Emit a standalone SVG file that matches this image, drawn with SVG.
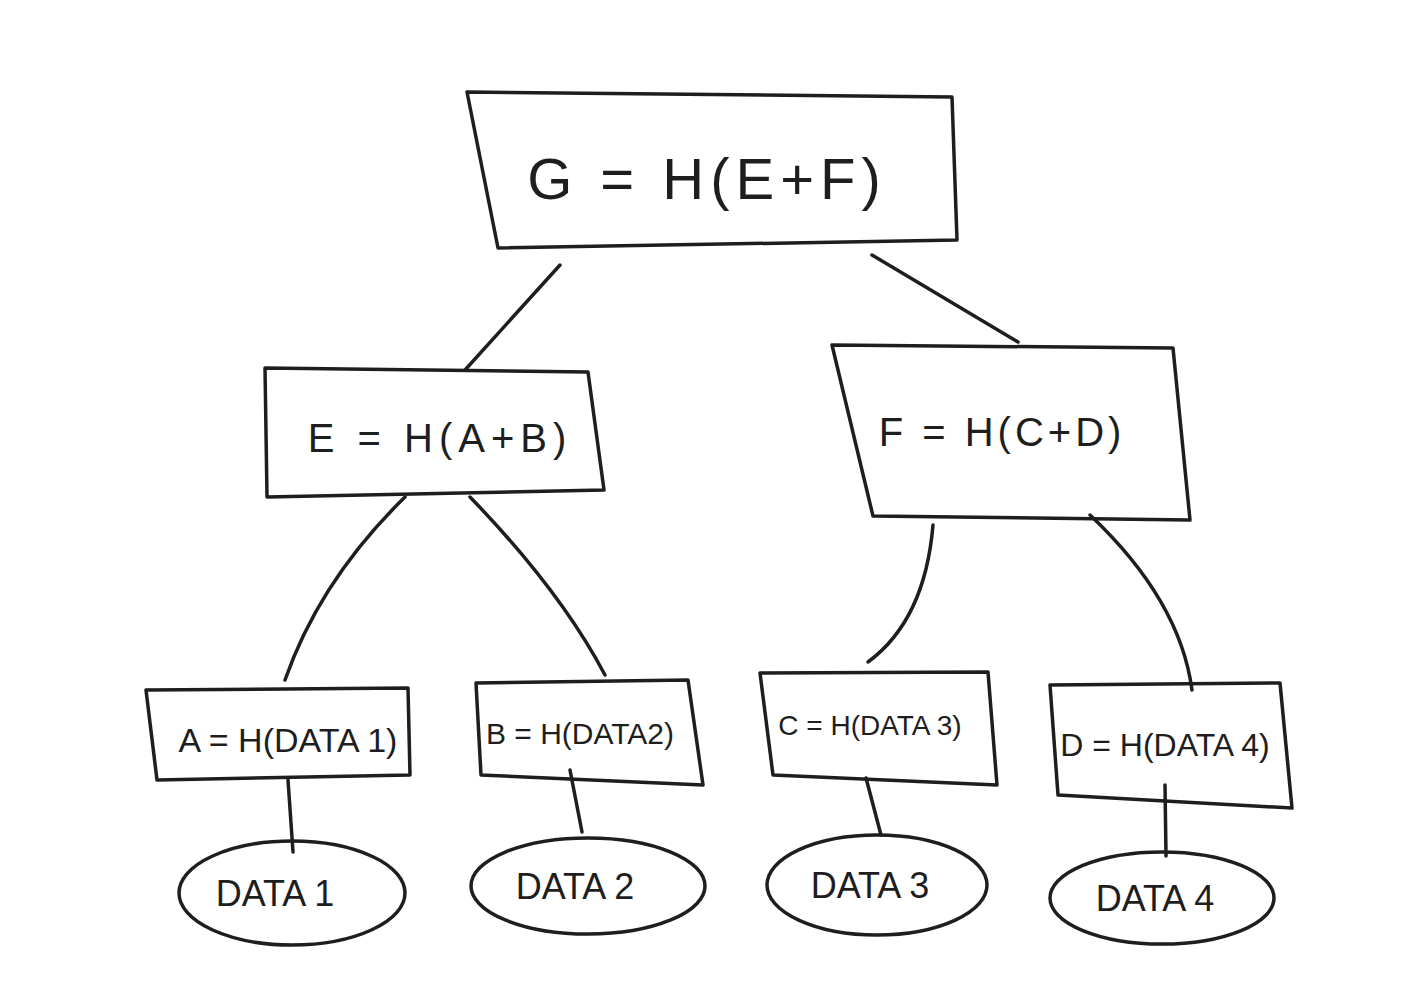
<svg xmlns="http://www.w3.org/2000/svg" width="1427" height="1000" viewBox="0 0 1427 1000">
<style>
.s{fill:none;stroke:#1e1e1e;stroke-width:3.5;stroke-linecap:round;stroke-linejoin:round}
.t{font-family:"Liberation Sans",sans-serif;fill:#1e1e1e;text-anchor:middle;dominant-baseline:central;font-weight:300}
</style>
<rect width="1427" height="1000" fill="#fff"/>
<g id="connectors" class="s">
<path d="M560 265 L465 370"/>
<path d="M872 255 L1018 342"/>
<path d="M405 497 Q320 580 285 680"/>
<path d="M470 497 Q560 590 605 675"/>
<path d="M933 525 Q925 620 868 662"/>
<path d="M1090 515 Q1180 600 1192 690"/>
<path d="M288 780 L293 852"/>
<path d="M570 770 L582 832"/>
<path d="M866 778 L881 835"/>
<path d="M1165 785 L1166 856"/>
</g>
<g id="G"><path class="s" d="M467 92 L952 97 L957 240 L498 248 Z"/><text class="t" x="707" y="178" font-size="58" letter-spacing="6">G = H(E+F)</text></g>
<g id="E"><path class="s" d="M265 368 L588 372 L604 490 L267 497 Z"/><text class="t" x="440" y="438" font-size="40" letter-spacing="6">E = H(A+B)</text></g>
<g id="F"><path class="s" d="M832 345 L1173 348 L1190 520 L873 516 Z"/><text class="t" x="1002" y="432" font-size="40" letter-spacing="4">F = H(C+D)</text></g>
<g id="A"><path class="s" d="M146 690 L408 688 L410 775 L157 780 Z"/><text class="t" x="288" y="740" font-size="34">A = H(DATA 1)</text></g>
<g id="B"><path class="s" d="M476 683 L688 680 L703 785 L481 775 Z"/><text class="t" x="580" y="733" font-size="30">B = H(DATA2)</text></g>
<g id="C"><path class="s" d="M760 673 L988 672 L997 785 L773 775 Z"/><text class="t" x="870" y="725" font-size="28">C = H(DATA 3)</text></g>
<g id="D"><path class="s" d="M1050 685 L1280 683 L1292 808 L1058 795 Z"/><text class="t" x="1165" y="745" font-size="32">D = H(DATA 4)</text></g>
<g id="d1"><ellipse class="s" cx="292" cy="893" rx="113" ry="52"/><text class="t" x="275" y="893" font-size="36">DATA 1</text></g>
<g id="d2"><ellipse class="s" cx="588" cy="886" rx="117" ry="48"/><text class="t" x="575" y="886" font-size="36">DATA 2</text></g>
<g id="d3"><ellipse class="s" cx="877" cy="885" rx="110" ry="50"/><text class="t" x="870" y="885" font-size="36">DATA 3</text></g>
<g id="d4"><ellipse class="s" cx="1162" cy="898" rx="112" ry="46"/><text class="t" x="1155" y="898" font-size="36">DATA 4</text></g>
</svg>
